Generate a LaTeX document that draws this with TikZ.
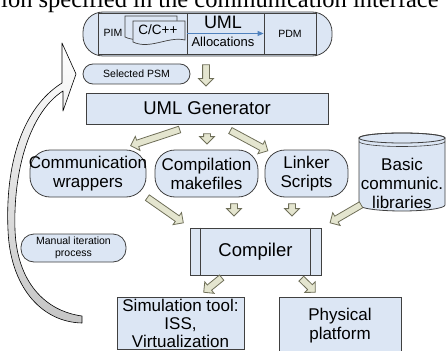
\documentclass[tikz,border=0pt]{standalone}
\usepackage{fontspec}
\setmainfont{Liberation Sans}
\newfontfamily\pageserif{Liberation Serif}
\usetikzlibrary{arrows.meta, positioning, calc, shapes.arrows}

\definecolor{boxblue}{HTML}{DCE6F4}
\definecolor{boxline}{HTML}{404040}
\definecolor{blkfill}{HTML}{E4E5CF}
\definecolor{blkline}{HTML}{6E6E58}
\definecolor{flowblue}{HTML}{4F81BD}

\begin{document}
\begin{tikzpicture}[x=1pt, y=-1pt,
    stage/.style={draw=boxline, fill=boxblue, rectangle, line width=0.8pt, align=center, inner sep=0pt},
    pill/.style={draw=boxline, fill=boxblue, rectangle, rounded corners=#1, line width=0.8pt, inner sep=0pt},
    pill/.default=20pt,
    bigtxt/.style={font=\fontsize{18.5}{20}\selectfont},
    midtxt/.style={font=\fontsize{17}{19}\selectfont},
    smalltxt/.style={font=\fontsize{10.5}{11.5}\selectfont},
    doc/.style={draw=boxline, fill=boxblue, line width=0.7pt},
    blk/.style={to path={let \p1=($(\tikztotarget)-(\tikztostart)$), \n1={atan2(\y1,\x1)}, \n2={veclen(\x1,\y1)} in
        node[single arrow, draw=blkline, fill=blkfill, line width=0.8pt, inner sep=3pt, minimum width=14pt,
             single arrow head extend=4pt, minimum height=\n2, rotate=\n1, anchor=tail] at (\tikztostart) {}}}]

    \useasboundingbox (0,0) rectangle (446,350);
    \clip (0,0) rectangle (446,350);

    % -------------------------------------------------------------
    % TOP: PAGE TEXT CUT BY THE FIGURE
    % -------------------------------------------------------------
    \node[anchor=base west, inner sep=0pt, font=\pageserif\fontsize{24.5}{26}\selectfont] (pagetext) at (1,7.5)
        {ion specified in the communication interface};

    % -------------------------------------------------------------
    % LEFT: MANUAL ITERATION ARROW (behind the boxes)
    % -------------------------------------------------------------
    \shadedraw[top color=white, bottom color=gray!45, draw=black, line width=0.6pt, line join=round]
        (82,323) .. controls (40,322) and (10,285) .. (8,230)
        .. controls (5,165) and (22,108) .. (62,83)
        -- (62,43) -- (76,74) -- (63,111) -- (63,91)
        .. controls (30,112) and (13,170) .. (15,230)
        .. controls (17,282) and (45,311) .. (82,316) -- cycle;

    \node[pill=13pt, minimum width=105, minimum height=28,
          label={[smalltxt, align=center]center:Manual iteration\\process}] (manual) at (73.5,248) {};

    % -------------------------------------------------------------
    % TOP: PIM / PDM ALLOCATION
    % -------------------------------------------------------------
    \node[pill=20pt, minimum width=249, minimum height=44] (alloc) at (207.5,34) {};
    \node[stage, minimum width=218, minimum height=41] (core) at (207,33.5) {};
    \node[stage, minimum width=89, minimum height=41] (pim) at (142.5,33.5) {};
    \node[stage, smalltxt, minimum width=52, minimum height=41] (pdm) at (290,33.5) {PDM};
    \node[smalltxt] (pimtxt) at (113,33) {PIM};

    % source documents
    \filldraw[doc] (125,16) -- (177,16) -- (177,35) .. controls (160,31) and (142,45) .. (125,37) -- cycle;
    \filldraw[doc] (133,21) -- (185,21) -- (185,40) .. controls (168,36) and (150,50) .. (133,42) -- cycle;
    \node[font=\fontsize{13.5}{15}\selectfont] (src) at (158,30) {C/C++};

    \node[font=\fontsize{18}{20}\selectfont] (umltxt) at (223,22) {UML};
    \node[font=\fontsize{13}{15}\selectfont] (alloctxt) at (223,42) {Allocations};
    \draw[flowblue, line width=0.8pt, -{Triangle[length=6pt, width=5pt]}] (pim.east) -- (pdm.west);

    \node[pill=10pt, minimum width=107, minimum height=20,
          label={[smalltxt]center:Selected PSM}] (psm) at (136.5,74) {};

    % -------------------------------------------------------------
    % MIDDLE: GENERATOR AND ITS OUTPUTS
    % -------------------------------------------------------------
    \node[stage, bigtxt, minimum width=242, minimum height=31] (gen) at (207,108.5) {UML Generator};
    \path ($(alloc.south)+(-1.5,8)$) to[blk] ($(gen.north)+(-1,-7)$);

    \node[pill, minimum width=116, minimum height=47,
          label={[midtxt, align=center]center:Communication\\wrappers}] (cw) at (88,173.5) {};
    \node[pill, minimum width=103, minimum height=47,
          label={[midtxt, align=center]center:Compilation\\makefiles}] (mk) at (206.5,173.5) {};
    \node[pill, minimum width=83, minimum height=47,
          label={[midtxt, align=center]center:Linker\\Scripts}] (ls) at (306.5,173.5) {};

    \path ($(gen.south)+(-27,5)$) to[blk] ($(cw.north)+(43,-4)$);
    \path ($(gen.south)+(0,9)$) to[blk] ($(mk.north)+(0.5,-8)$);
    \path ($(gen.south)+(23,6)$) to[blk] ($(ls.north)+(-39,1)$);

    % library cylinder
    \def\libX{402}
    \def\libTop{138}
    \def\libBot{205}
    \def\libRx{43}
    \def\libRy{5}
    \filldraw[draw=boxline, fill=boxblue, line width=0.8pt]
        (\libX-\libRx,\libTop) -- (\libX-\libRx,\libBot)
        arc[start angle=180, end angle=0, x radius=\libRx, y radius=6]
        -- (\libX+\libRx,\libTop)
        arc[start angle=0, end angle=-180, x radius=\libRx, y radius=\libRy] -- cycle;
    \draw[boxline, line width=0.8pt] (\libX,\libTop) ellipse[x radius=\libRx, y radius=\libRy];
    \draw[boxline, line width=0.6pt] (\libX-\libRx,\libTop+3.5)
        arc[start angle=180, end angle=0, x radius=\libRx, y radius=\libRy];
    \node[align=center, font=\fontsize{17}{19}\selectfont] (lib) at (\libX,183) {Basic\\communic.\\libraries};

    % -------------------------------------------------------------
    % BOTTOM: COMPILER AND TARGETS
    % -------------------------------------------------------------
    \node[stage, bigtxt, minimum width=131, minimum height=47] (comp) at (255.5,251.5) {Compiler};
    \draw[boxline, line width=0.8pt] ([xshift=11pt]comp.north west) -- ([xshift=11pt]comp.south west);
    \draw[boxline, line width=0.8pt] ([xshift=-11pt]comp.north east) -- ([xshift=-11pt]comp.south east);

    \path ($(cw.south)+(59,0)$) to[blk] ($(comp.north)+(-72.5,-5)$);
    \path ($(mk.south)+(27.5,6)$) to[blk] ($(comp.north)+(-21.5,-12)$);
    \path ($(ls.south)+(-14.5,6)$) to[blk] ($(comp.north)+(36.5,-12)$);
    \path ($(comp.north east)+(40,-23)$) to[blk] ($(comp.north east)+(9,-5)$);

    \node[stage, font=\fontsize{17}{18}\selectfont, minimum width=127, minimum height=52, anchor=north] (sim) at (180.5,297) {Simulation tool:\\ISS,\\Virtualization};
    \node[stage, midtxt, minimum width=122, minimum height=56, anchor=north] (phys) at (340,297) {Physical\\platform};

    \path ($(comp.south)+(-33.5,2)$) to[blk] ($(sim.north)+(23.5,-5)$);
    \path ($(comp.south)+(45.5,3)$) to[blk] ($(phys.north)+(-25,-5)$);

\end{tikzpicture}
\end{document}
